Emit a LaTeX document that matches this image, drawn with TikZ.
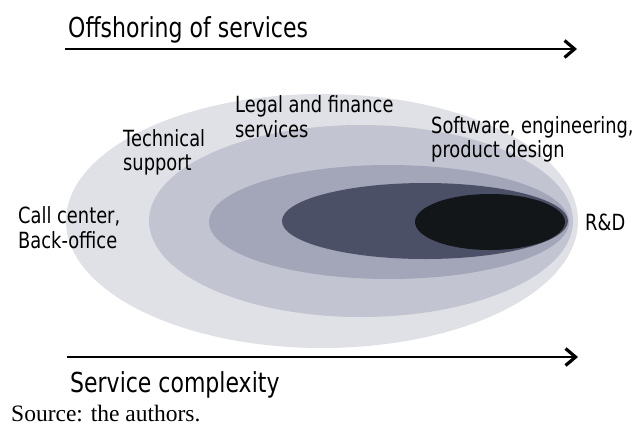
\documentclass[tikz,border=0pt]{standalone}
\usepackage{fontspec}
\setmainfont{Liberation Serif}
\newfontfamily\lblfont[FakeStretch=0.8]{DejaVu Sans}
\usetikzlibrary{arrows.meta}
\definecolor{ringA}{HTML}{E0E1E6}
\definecolor{ringB}{HTML}{C2C5D1}
\definecolor{ringC}{HTML}{A3A6B9}
\definecolor{ringD}{HTML}{4C5066}
\definecolor{ringE}{HTML}{131618}
\tikzset{
  biglbl/.style={anchor=base west, inner sep=0pt, font=\lblfont\fontsize{27.5}{32}\selectfont},
  lbl/.style={anchor=base west, inner sep=0pt, font=\lblfont\fontsize{22.3}{25}\selectfont},
  axisarrow/.style={line width=2.4pt, -{Straight Barb[length=10pt,width=17pt,line width=3.2pt]}},
  srclbl/.style={anchor=base west, inner sep=0pt, font=\fontsize{23.5}{28}\selectfont}
}
\begin{document}
\begin{tikzpicture}[x=1pt,y=-1pt]
\useasboundingbox (0,0) rectangle (637,429);
% nested rings
\fill[ringA] (322,221) ellipse [x radius=256pt, y radius=127pt];
\fill[ringB] (361,221) ellipse [x radius=212pt, y radius=96pt];
\fill[ringC] (389,222) ellipse [x radius=180pt, y radius=57pt];
\fill[ringD] (425,221) ellipse [x radius=143pt, y radius=38pt];
\fill[ringE] (490,222) ellipse [x radius=75pt, y radius=28pt];
% axes
\coordinate (topS) at (65,49);
\coordinate (topE) at (577,49);
\coordinate (botS) at (67,357);
\coordinate (botE) at (578,357);
\draw[axisarrow] (topS) -- (topE);
\draw[axisarrow] (botS) -- (botE);
% labels
\node[biglbl] (offsh) at (68,37) {Offshoring of services};
\node[biglbl] (cmplx) at (70,392) {Service complexity};
\node[lbl] (legalA) at (235,112) {Legal and finance};
\node[lbl] (legalB) at (235,137) {services};
\node[lbl] (techA) at (123,146) {Technical};
\node[lbl] (techB) at (123,170) {support};
\node[lbl] (softA) at (431,133) {Software, engineering,};
\node[lbl] (softB) at (431,157) {product design};
\node[lbl] (callA) at (18,223) {Call center,};
\node[lbl] (callB) at (18,248) {Back-office};
\node[lbl] (rnd) at (585,230) {R\&D};
\node[srclbl] (src) at (11,421) {Source: the authors.};
\end{tikzpicture}
\end{document}
